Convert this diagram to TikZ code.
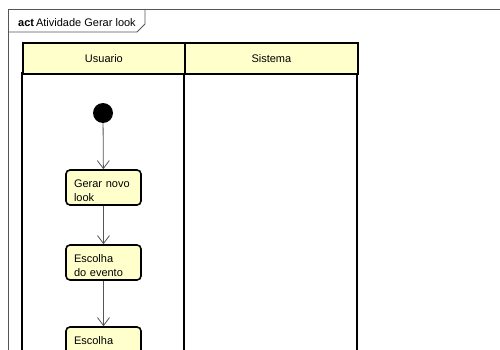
\documentclass[tikz,border=0pt]{standalone}
\usepackage{fontspec}
\setmainfont{Liberation Sans}
\usetikzlibrary{arrows.meta}
\definecolor{laneyellow}{HTML}{FFFFCC}
\definecolor{actyellow}{HTML}{FFFFCC}
\definecolor{framegray}{HTML}{555555}
\definecolor{flowgray}{HTML}{555555}
\begin{document}
\begin{tikzpicture}[x=1pt,y=-1pt,
  font=\fontsize{11}{14}\selectfont,
  frameline/.style={draw=framegray,line width=0.9pt},
  laneline/.style={draw=black,line width=1.8pt},
  lanehead/.style={laneline,fill=laneyellow,minimum width=#1,minimum height=31pt,inner sep=0pt,anchor=north west},
  actbox/.style={draw=black,line width=1.6pt,fill=actyellow,rounded corners=4pt,
    minimum width=75pt,minimum height=35pt,text width=59pt,align=left,
    inner sep=0pt,text height=9pt,text depth=10pt},
  startnode/.style={circle,fill=black,minimum size=20pt,inner sep=0pt},
  flow/.style={draw=flowgray,line width=0.8pt,-{Straight Barb[length=8pt,width=12pt]}}
]
\useasboundingbox (0,0) rectangle (500,350);
\begin{scope}
\clip (0,0) rectangle (500,350);

% diagram frame and its name tab
\draw[frameline] (8,360) -- (8,9) -- (510,9);
\draw[frameline] (8,32) -- (137,32) -- (145,24) -- (145,9);
\node[anchor=base west,inner sep=0pt] (title) at (18,26.5) {\textbf{act}\hspace{2pt}Atividade Gerar look};

% swimlanes
\draw[laneline] (22,73) rectangle (357,400);
\draw[laneline] (184,73) -- (184,400);
\node[lanehead=162pt] (usuario) at (22,42) {Usuario};
\node[lanehead=173pt] (sistema) at (184,42) {Sistema};

% activity flow
\node[startnode] (start) at (103,113) {};
\node[actbox] (gerar) at (103.5,187.5) {Gerar novo\\look};
\node[actbox] (evento) at (103.5,262.5) {Escolha\\do evento};
\node[actbox] (estilo) at (103.5,344.5) {Escolha\\do estilo};

\draw[flow] (start) -- (gerar);
\draw[flow] (gerar) -- (evento);
\draw[flow] (evento) -- (estilo);
\end{scope}
\end{tikzpicture}
\end{document}
